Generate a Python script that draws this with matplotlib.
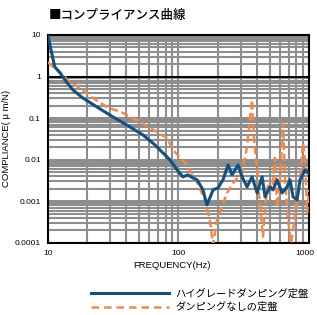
import matplotlib
matplotlib.use("Agg")
from matplotlib import pyplot as plt
from matplotlib.ticker import LogLocator, FixedLocator, NullFormatter
from matplotlib.lines import Line2D
from matplotlib.transforms import ScaledTranslation

# compliance curves (Hz, um/N)
hg_freq = [10, 10.9, 11.3, 12.4, 13.5, 15.5, 18.5, 23.7, 31.5, 42.5, 53.5, 66.1,
           72.1, 86.1, 97.5, 108, 118, 129, 139, 154, 165, 174, 184, 201, 219,
           240, 257, 286, 307, 335, 366, 400, 437, 460, 503, 530, 569, 621, 678,
           715, 754, 809, 853, 931, 983]
hg_val = [10, 2.8, 1.7, 1.22, 0.83, 0.48, 0.306, 0.186, 0.107, 0.0614, 0.0394, 0.0227,
          0.0172, 0.0099, 0.00569, 0.00386, 0.00431, 0.00365, 0.00327, 0.00188, 0.00082,
          0.00121, 0.00188, 0.0021, 0.00327, 0.0075, 0.00431, 0.0075, 0.00386, 0.00222,
          0.00386, 0.00159, 0.00386, 0.00128, 0.00222, 0.00188, 0.00327, 0.00159,
          0.00222, 0.00327, 0.00128, 0.00108, 0.00327, 0.00569, 0.00482]

nd_freq = [10, 10.9, 12.4, 14.7, 17.6, 22.1, 28.3, 37.6, 50.7, 68.4, 81.6, 90.8,
           116, 139, 160, 174, 184, 197, 215, 235, 257, 286, 307, 335, 353, 366,
           379, 400, 422, 444, 460, 486, 521, 548, 569, 597, 632, 655, 690, 729,
           785, 853, 899, 931, 966, 1000]
nd_val = [2.24, 1.7, 1.29, 0.74, 0.53, 0.306, 0.186, 0.133, 0.081, 0.0466, 0.0334, 0.0172,
          0.0075, 0.00277, 0.00108, 0.000357, 0.00009, 0.000357, 0.00073, 0.00159,
          0.00248, 0.00386, 0.00482, 0.0203, 0.101, 0.274, 0.030, 0.0057, 0.00073,
          0.00014, 0.00073, 0.00277, 0.00188, 0.011, 0.00073, 0.00277, 0.077, 0.00327,
          0.000357, 0.0001, 0.000526, 0.00386, 0.0253, 0.0099, 0.000526, 0.00188]

y_ticks = [10, 1, 0.1, 0.01, 0.001, 0.0001]
y_labels = ["10", "1", "0.1", "0.01", "0.001", "0.0001"]
x_ticks = [10, 100, 1000]
x_labels = ["10", "100", "1000"]
legend_labels = ["ハイグレードダンピング定盤", "ダンピングなしの定盤"]

jp = ["Noto Sans CJK JP", "DejaVu Sans"]
narrow = ["Liberation Sans Narrow", "Liberation Sans", "DejaVu Sans"]
plt.rcParams["font.family"] = jp

blue = "#14507f"
orange = "#f08a4b"

fig = plt.figure(figsize=(3.17, 3.15), dpi=100)
ax = fig.add_axes([0.151, 0.229, 0.824, 0.66])

ax.set_xscale("log")
ax.set_yscale("log")
ax.set_xlim(10, 1000)
ax.set_ylim(0.0001, 10)

ax.xaxis.set_major_locator(FixedLocator(x_ticks))
ax.yaxis.set_major_locator(FixedLocator(y_ticks))
ax.xaxis.set_minor_locator(LogLocator(base=10, subs=range(2, 10)))
ax.yaxis.set_minor_locator(LogLocator(base=10, subs=range(2, 10)))
ax.xaxis.set_minor_formatter(NullFormatter())
ax.yaxis.set_minor_formatter(NullFormatter())
ax.set_xticklabels(x_labels, family=narrow, fontsize=6)
ax.set_yticklabels(y_labels, family=narrow, fontsize=6)
ax.tick_params(which="both", length=0, pad=5)
# keep "1000" inside the figure
last = ax.get_xticklabels()[-1]
last.set_transform(last.get_transform() + ScaledTranslation(-3 / 72, 0, fig.dpi_scale_trans))

ax.grid(which="both", color="#8e8e8e", lw=1.5, zorder=0)
ax.set_axisbelow(True)
ax.axhline(1, color="black", lw=1.4, zorder=1)
for s in ax.spines.values():
    s.set_linewidth(1.5)

ax.plot(nd_freq, nd_val, color=orange, lw=1.8, dashes=(3, 1.5), zorder=3)
ax.plot(hg_freq, hg_val, color=blue, lw=2.2, zorder=4)

ax.set_xlabel("FREQUENCY(Hz)", family=narrow, fontsize=6.8, labelpad=3)
ax.xaxis.set_label_coords(0.476, -0.085)
ax.set_ylabel("COMPLIANCE( μ m/N)", family=narrow, fontsize=6.8, labelpad=3)

fig.text(0.155, 0.952, "■コンプライアンス曲線", fontsize=9, fontweight="medium",
         va="center", ha="left")

handles = [Line2D([], [], color=blue, lw=2.2),
           Line2D([], [], color=orange, lw=1.8, dashes=(3, 2))]
fig.legend(handles, legend_labels, loc="upper left", bbox_to_anchor=(0.27, 0.1),
           frameon=False, fontsize=7.4, handlelength=7.6, handletextpad=0.6,
           labelspacing=0.3, borderpad=0)

fig.savefig("out.png", dpi=100)
